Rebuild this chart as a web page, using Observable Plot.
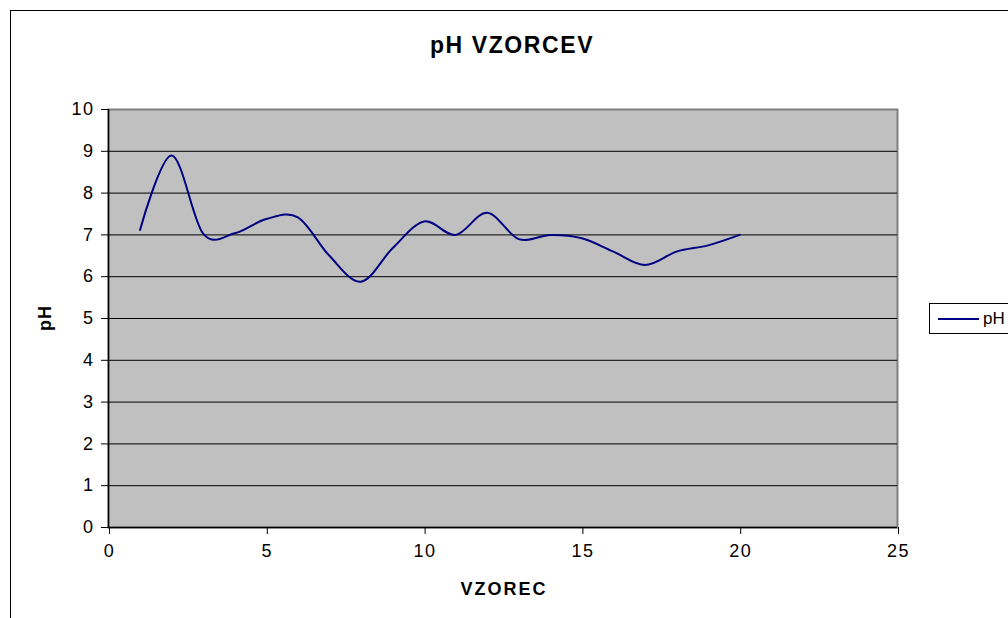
<!DOCTYPE html>
<html>
<head>
<meta charset="utf-8">
<script src="https://cdn.jsdelivr.net/npm/d3@7"></script>
<script src="https://cdn.jsdelivr.net/npm/@observablehq/plot@0.6"></script>
<style>
  html, body { margin: 0; padding: 0; background: #fff; }
  #wrap { position: relative; width: 1008px; height: 618px; overflow: hidden; font-family: "Liberation Sans", Arial, sans-serif; }
  #border { position: absolute; left: 10px; top: 10px; width: 1100px; height: 700px; border: 1px solid #000; box-sizing: border-box; pointer-events: none; }
  .t { position: absolute; font-weight: bold; color: #000; white-space: nowrap; line-height: 1.15; }
  #title { width: 1008px; top: 32px; text-align: center; font-size: 23px; letter-spacing: 1.6px; left: 8px; }
  #xlab { width: 1008px; text-align: center; top: 579px; font-size: 18px; letter-spacing: 2px; left: 0px; }
  #ylab { left: 45px; top: 318px; font-size: 18px; letter-spacing: 1px; transform: translate(-50%, -50%) rotate(-90deg); }
  #legend { position: absolute; left: 929px; top: 303px; width: 120px; height: 31px; border: 1px solid #000; box-sizing: border-box; background: #fff; }
  #legend .sw { position: absolute; left: 8px; top: 14px; width: 41px; height: 0; border-top: 2px solid #000080; }
  #legend .lb { position: absolute; left: 53px; top: 5px; font-size: 17px; line-height: 1.15; }
  #chart svg text { letter-spacing: 1.5px; }
</style>
</head>
<body>
<div id="wrap">
  <div id="chart"></div>
  <div id="border"></div>
  <div class="t" id="title">pH VZORCEV</div>
  <div class="t" id="xlab">VZOREC</div>
  <div class="t" id="ylab">pH</div>
  <div id="legend"><div class="sw"></div><div class="lb">pH</div></div>
</div>
<script>
const sampleNo = [1, 2, 3, 4, 5, 6, 7, 8, 9, 10, 11, 12, 13, 14, 15, 16, 17, 18, 19, 20];
const phValues = [7.12, 8.9, 7.03, 7.04, 7.38, 7.42, 6.5, 5.88, 6.68, 7.32, 7.0, 7.53, 6.9, 7.0, 6.92, 6.6, 6.28, 6.6, 6.75, 7.0];
const xTicks = [0, 5, 10, 15, 20, 25];
const yTicks = [0, 1, 2, 3, 4, 5, 6, 7, 8, 9, 10];

const data = sampleNo.map((s, i) => ({vzorec: s, pH: phValues[i]}));

const chart = Plot.plot({
  width: 1008,
  height: 618,
  marginLeft: 108,
  marginRight: 111,
  marginTop: 109,
  marginBottom: 91,
  x: {domain: [0, 25]},
  y: {domain: [0, 10]},
  style: {fontFamily: "'Liberation Sans', Arial, sans-serif", fontSize: "18px", color: "#000", background: "transparent", overflow: "visible"},
  marks: [
    Plot.frame({fill: "#c0c0c0", stroke: "#808080", strokeWidth: 2}),
    Plot.gridY(yTicks.filter(d => d > 0 && d < 10), {stroke: "#000", strokeOpacity: 1, strokeWidth: 1}),
    Plot.lineY(data, {x: "vzorec", y: "pH", stroke: "#000080", strokeWidth: 2, curve: "cardinal", tension: 0}),
    Plot.axisY({ticks: yTicks, tickSize: 7, tickPadding: 7, label: null, stroke: "#000"}),
    Plot.axisX({ticks: xTicks, tickSize: 7, tickPadding: 10, label: null, stroke: "#000", dx: 1}),
    Plot.ruleX([0], {stroke: "#000", strokeWidth: 1.5}),
    Plot.ruleY([0], {stroke: "#000", strokeWidth: 1.5})
  ]
});
document.getElementById("chart").appendChild(chart);
</script>
</body>
</html>
